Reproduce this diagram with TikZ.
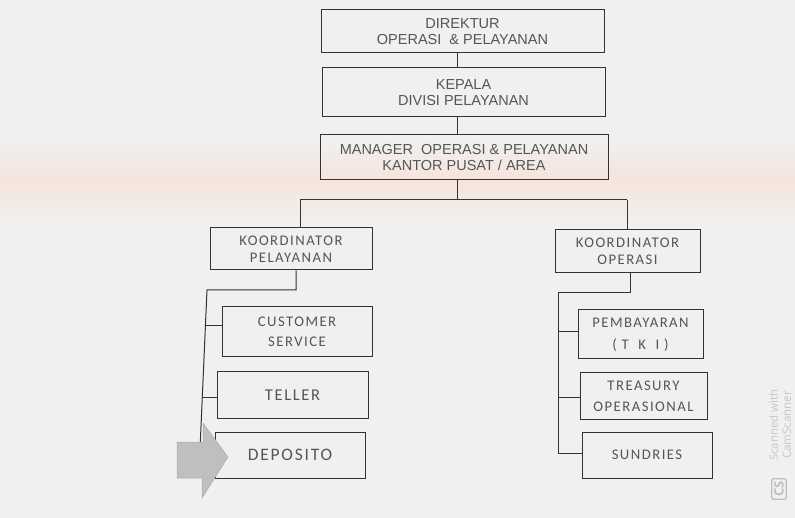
\documentclass[tikz,border=0pt]{standalone}
\usepackage{fontspec}
\setmainfont{Liberation Sans}
\newfontfamily\unitfont[LetterSpace=10]{Carlito}
\newfontfamily\markfont{Open Sans}
\definecolor{paper}{HTML}{F1F0EF}
\definecolor{ink}{HTML}{555555}
\definecolor{lineink}{HTML}{333333}
\definecolor{band}{HTML}{F5E4DC}
\tikzset{
  headbox/.style={draw=lineink, line width=1pt, text=ink, align=center,
    inner sep=0pt, font=\fontsize{14.5}{16.5}\selectfont},
  unitbox/.style={draw=lineink, line width=1pt, text=ink, align=center,
    inner sep=0pt},
  link/.style={draw=lineink, line width=1pt},
}
\begin{document}
\begin{tikzpicture}[x=1pt,y=-1pt]
\useasboundingbox (0,0) rectangle (795,518);
% paper with a faint warm band across the middle
\fill[paper] (0,0) rectangle (795,518);
\shade[top color=paper, bottom color=band] (0,140) rectangle (795,180);
\shade[top color=band, bottom color=paper] (0,180) rectangle (795,225);

% top chain
\node[headbox, minimum width=283, minimum height=43] (dir) at (462.5,31.5)
  {DIREKTUR\\OPERASI \ \& PELAYANAN};
\node[headbox, minimum width=283, minimum height=49] (kep) at (463.5,92.5)
  {KEPALA\\DIVISI PELAYANAN};
\node[headbox, minimum width=288, minimum height=45] (man) at (464,157.5)
  {MANAGER \ OPERASI \& PELAYANAN\\KANTOR PUSAT / AREA};

% coordinators
\node[unitbox, minimum width=162, minimum height=42,
  font=\unitfont\fontsize{14.7}{17}\selectfont] (kp) at (291,249)
  {KOORDINATOR\\PELAYANAN};
\node[unitbox, minimum width=145, minimum height=43,
  font=\unitfont\fontsize{14.7}{17}\selectfont] (ko) at (627.5,251.5)
  {KOORDINATOR\\OPERASI};

% units under Koordinator Pelayanan
\node[unitbox, minimum width=150, minimum height=50,
  font=\unitfont\fontsize{14.7}{20}\selectfont] (cs) at (297,332)
  {CUSTOMER\\SERVICE};
\node[unitbox, minimum width=151, minimum height=46,
  font=\unitfont\fontsize{16.5}{18}\selectfont] (tel) at (292.5,395) {TELLER};
\node[unitbox, minimum width=150, minimum height=46,
  font=\unitfont\fontsize{17.5}{19}\selectfont] (dep) at (290,455) {DEPOSITO};

% units under Koordinator Operasi
\node[unitbox, minimum width=125, minimum height=49,
  font=\unitfont\fontsize{14.7}{22}\selectfont] (pem) at (640.5,334.5)
  {PEMBAYARAN\\( T \ K \ I )};
\node[unitbox, minimum width=127, minimum height=46,
  font=\unitfont\fontsize{14.7}{21}\selectfont] (tre) at (643.5,396)
  {TREASURY\\OPERASIONAL};
\node[unitbox, minimum width=130, minimum height=46,
  font=\unitfont\fontsize{14.7}{18}\selectfont] (sun) at (647,455) {SUNDRIES};

% vertical chain
\draw[link] (dir.south -| 457,0) -- (kep.north -| 457,0);
\draw[link] (kep.south -| 457,0) -- (man.north -| 457,0);
\coordinate (split) at (457,200);
\draw[link] (man.south -| split) -- (split);
\coordinate (splitL) at (300,200);
\coordinate (splitR) at (627,200);
\draw[link] (splitL) -- (splitR);
\draw[link] (splitL) -- (splitL |- kp.north);
\draw[link] (splitR) -- (splitR |- ko.north);

% left spine
\coordinate (kpdrop) at (296,290);
\coordinate (spineLt) at (207,290);
\coordinate (spineLb) at (199,472);
\draw[link] (kpdrop |- kp.south) -- (kpdrop) -- (spineLt) -- (spineLb);
\draw[link] (205,326) -- (cs.west |- 0,326);
\draw[link] (202,397) -- (tel.west |- 0,397);

% right spine
\coordinate (kodrop) at (630,293);
\coordinate (spineRt) at (558,293);
\coordinate (spineRb) at (558,453);
\draw[link] (kodrop |- ko.south) -- (kodrop) -- (spineRt) -- (spineRb);
\draw[link] (558,332) -- (pem.west |- 0,332);
\draw[link] (558,397) -- (tre.west |- 0,397);
\draw[link] (558,453) -- (sun.west |- 0,453);

% grey block arrow pointing at Deposito
\filldraw[fill=gray!50, draw=gray!65, line width=0.5pt]
  (177,442) -- (203,442) -- (203,423) -- (228,457) -- (202,498)
  -- (202,478) -- (177,478) -- cycle;

% scanner mark
\node[rotate=90, text=gray!45, font=\markfont\fontsize{11.5}{13}\selectfont,
  align=center] (scan) at (780,425) {Scanned with\\CamScanner};
\node[draw=gray!50, line width=1.3pt, rounded corners=2pt, text=gray!50,
  rotate=90, font=\markfont\bfseries\fontsize{13}{14}\selectfont,
  inner sep=2.5pt] (cslogo) at (779,489) {CS};
\end{tikzpicture}
\end{document}
